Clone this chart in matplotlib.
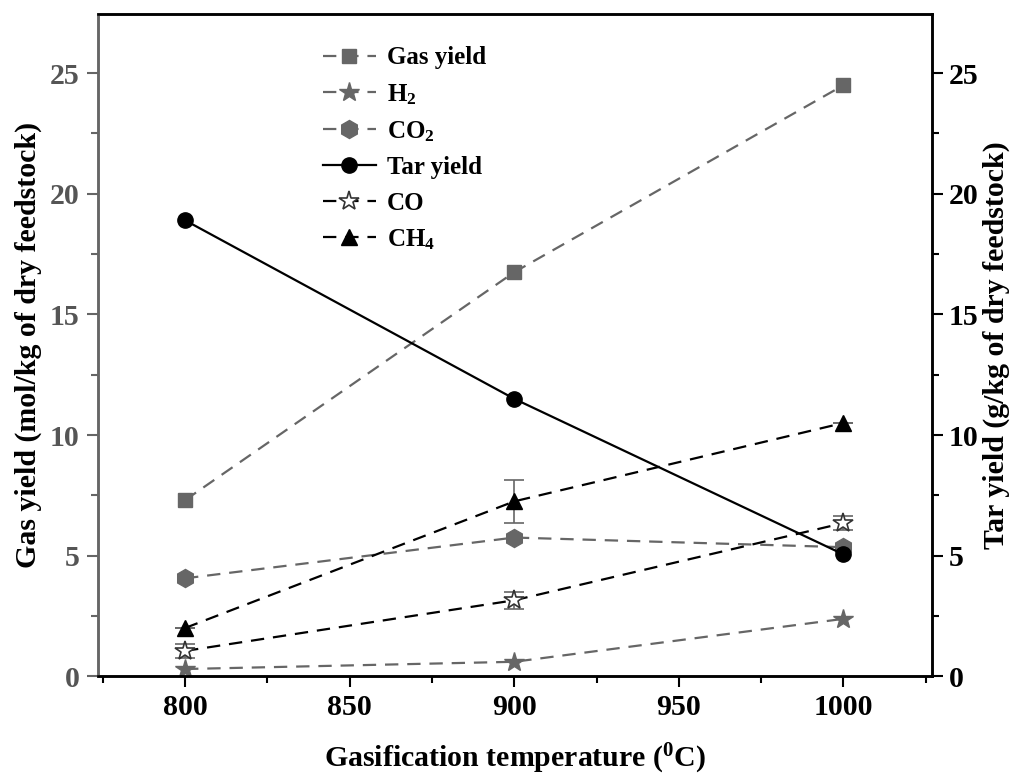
import numpy as np
import matplotlib
matplotlib.use('Agg')
import matplotlib.pyplot as plt
from matplotlib.ticker import MultipleLocator

plt.rcParams['font.family'] = ['Liberation Serif', 'DejaVu Serif']
plt.rcParams['font.weight'] = 'bold'
plt.rcParams['mathtext.fontset'] = 'custom'
plt.rcParams['mathtext.rm'] = 'Liberation Serif:bold'
plt.rcParams['mathtext.bf'] = 'Liberation Serif:bold'
plt.rcParams['mathtext.it'] = 'Liberation Serif:bold'

# temperatures (C)
temps = [800, 900, 1000]

# gas yields (mol/kg of dry feedstock)
gas_yield = [7.3, 16.75, 24.5]
h2 = [0.3, 0.6, 2.38]
co2 = [4.06, 5.75, 5.35]
co = [1.05, 3.15, 6.35]
co_err = [0.3, 0.35, 0.3]
ch4 = [2.0, 7.25, 10.5]
ch4_err = [0.0, 0.9, 0.0]

# tar yield (g/kg of dry feedstock)
tar_yield = [18.9, 11.5, 5.05]

GRAY = '#666666'
DARK = '#555555'
FS = 21.5

fig = plt.figure(figsize=(10.19, 7.8), dpi=100)
ax = fig.add_axes([0.096, 0.133, 0.819, 0.849])
ax2 = ax.twinx()

h_gas, = ax.plot(temps, gas_yield, ls='--', dashes=(6, 4), lw=1.6, color=GRAY,
                 marker='s', ms=10, label='Gas yield')
h_h2, = ax.plot(temps, h2, ls='--', dashes=(6, 4), lw=1.6, color=GRAY,
                marker='*', ms=15, label='H$_2$')
h_co2, = ax.plot(temps, co2, ls='--', dashes=(6, 4), lw=1.6, color=GRAY,
                 marker='h', ms=13, label='CO$_2$')
ax.errorbar(temps, co, yerr=co_err, fmt='none', ecolor=GRAY, elinewidth=1.2,
            capsize=7, capthick=1.2)
h_co, = ax.plot(temps, co, ls='--', dashes=(6, 4), lw=1.6, color='black',
                marker='*', ms=15, mfc='white', mec='#333333', mew=1.2, label='CO')
ax.errorbar(temps, ch4, yerr=ch4_err, fmt='none', ecolor=GRAY, elinewidth=1.2,
            capsize=7, capthick=1.2)
h_ch4, = ax.plot(temps, ch4, ls='--', dashes=(6, 4), lw=1.6, color='black',
                 marker='^', ms=12, label='CH$_4$')

h_tar, = ax2.plot(temps, tar_yield, ls='-', lw=1.6, color='black',
                  marker='o', ms=11, label='Tar yield')

ax.set_xlim(773.5, 1027)
ax.set_ylim(0, 27.45)
ax2.set_ylim(0, 27.45)

ax.xaxis.set_major_locator(MultipleLocator(50))
ax.xaxis.set_minor_locator(MultipleLocator(25))
for a in (ax, ax2):
    a.yaxis.set_major_locator(MultipleLocator(5))
    a.yaxis.set_minor_locator(MultipleLocator(2.5))

ax.tick_params(axis='x', which='major', direction='out', length=8, width=1.5,
               labelsize=FS, pad=5)
ax.tick_params(axis='x', which='minor', direction='out', length=5, width=1.5)
ax.tick_params(axis='y', which='major', direction='out', length=8, width=1.5,
               labelsize=FS, color=GRAY, labelcolor=DARK, pad=5)
ax.tick_params(axis='y', which='minor', direction='out', length=5, width=1.5,
               color=GRAY)
ax2.tick_params(axis='y', which='major', direction='out', length=8, width=1.5,
                labelsize=FS, pad=4)
ax2.tick_params(axis='y', which='minor', direction='out', length=5, width=1.5)

for a in (ax, ax2):
    for s in a.spines.values():
        s.set_linewidth(1.8)
ax2.spines['left'].set_color(GRAY)
ax.spines['left'].set_color(GRAY)

for lbl in ax.get_xticklabels() + ax.get_yticklabels() + ax2.get_yticklabels():
    lbl.set_fontweight('bold')

ax.set_xlabel('Gasification temperature ($^{0}$C)', fontsize=FS,
              fontweight='bold', labelpad=15)
ax.set_ylabel('Gas yield (mol/kg of dry feedstock)', fontsize=FS,
              fontweight='bold', labelpad=6)
ax2.set_ylabel('Tar yield (g/kg of dry feedstock)', fontsize=FS,
               fontweight='bold', labelpad=3)

handles = [h_gas, h_h2, h_co2, h_tar, h_co, h_ch4]
ax2.legend(handles, [h.get_label() for h in handles], loc='upper left',
           bbox_to_anchor=(0.243, 0.985), frameon=False,
           handlelength=2.1, labelspacing=0.5, handletextpad=0.45,
           prop={'weight': 'bold', 'size': 18})

fig.savefig('out.png', dpi=100)
